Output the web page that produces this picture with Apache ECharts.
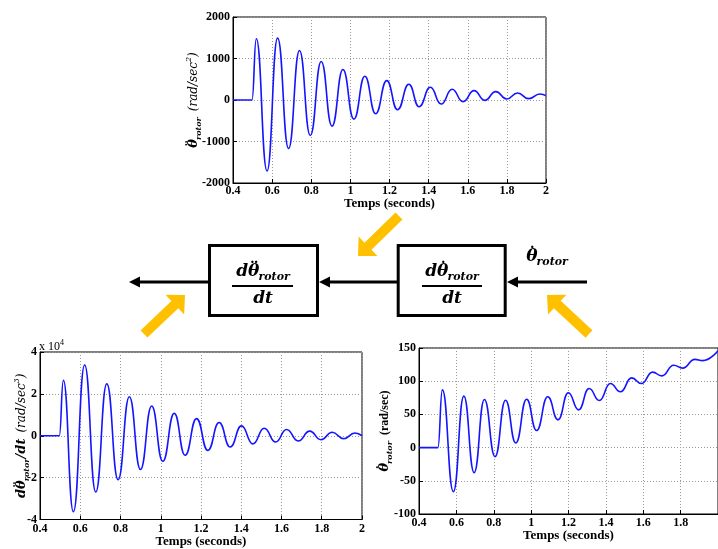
<!DOCTYPE html>
<html><head><meta charset="utf-8">
<script src="https://cdn.jsdelivr.net/npm/echarts@6/dist/echarts.min.js"></script>
<style>html,body{margin:0;padding:0;background:#fff}#c{width:718px;height:549px}</style>
</head><body><div id="c"></div>
<script>
// ---- tick values ----
const timeTicks = [0.4, 0.6, 0.8, 1.0, 1.2, 1.4, 1.6, 1.8, 2.0];
const accTicks = [-2000, -1000, 0, 1000, 2000];
const jerkTicks = [-40000, -20000, 0, 20000, 40000];
const velTicks = [-100, -50, 0, 50, 100, 150];

// ---- top chart: angular acceleration (rad/sec^2) ----
const accT = [0.4, 0.497, 0.519, 0.574, 0.628, 0.684, 0.740, 0.795, 0.851, 0.906, 0.962, 1.018, 1.074, 1.129, 1.186, 1.241, 1.299, 1.351, 1.409, 1.464, 1.52, 1.576, 1.632, 1.687, 1.743, 1.799, 1.855, 1.911, 1.969, 2.0];
const accV = [0, 0, 1476, -1710, 1492, -1169, 1194, -855, 927, -629, 734, -460, 573, -331, 468, -234, 379, -161, 306, -97, 258, -40, 226, -8, 202, 24, 169, 32, 145, 105];

// ---- bottom-left chart: jerk (rad/sec^3) ----
const jerkT = [0.4, 0.496, 0.516, 0.566, 0.622, 0.677, 0.732, 0.788, 0.844, 0.899, 0.955, 1.010, 1.067, 1.121, 1.178, 1.234, 1.290, 1.345, 1.401, 1.458, 1.514, 1.571, 1.625, 1.683, 1.740, 1.796, 1.852, 1.909, 1.965, 2.0];
const jerkV = [0, 0, 26500, -36300, 33800, -26900, 24800, -21000, 18600, -16100, 14200, -12200, 10700, -9300, 8200, -7000, 6300, -5400, 4700, -3900, 3600, -3000, 3000, -2500, 2200, -1900, 1700, -1400, 1300, 0];

// ---- bottom-right chart: angular velocity (rad/sec) ----
const velT = [0.4, 0.501, 0.525, 0.584, 0.640, 0.695, 0.750, 0.807, 0.863, 0.918, 0.976, 1.029, 1.089, 1.144, 1.199, 1.254, 1.310, 1.365, 1.424, 1.478, 1.538, 1.590, 1.650, 1.699, 1.763, 1.811, 1.876, 1.918, 2.0];
const velV = [0, 0, 87, -66.4, 77.5, -37.7, 72.4, -13.6, 71.4, 7.0, 72.9, 25.7, 76.5, 41.8, 82.5, 56.8, 89, 71, 96.6, 84, 105, 96.6, 113.7, 108, 124, 119.7, 132.8, 131, 146];

const pairs = (t, v) => t.map((x, i) => [x, v[i]]);
const step = a => Math.round((a[1] - a[0]) * 1e6) / 1e6;

const SERIF = "'Liberation Serif', 'DejaVu Serif', serif";
const MATH = "'DejaVu Serif', serif";
const lblStyle = { fontFamily: SERIF, fontWeight: 'bold', fontSize: 12, color: '#000' };

function xAxisFor(grid, gap, extraLabel) {
  return {
    type: 'value', gridIndex: grid,
    min: timeTicks[0], max: timeTicks[timeTicks.length - 1], interval: step(timeTicks),
    name: 'Temps (seconds)', nameLocation: 'middle', nameGap: gap, nameMoveOverlap: false,
    nameTextStyle: { fontFamily: SERIF, fontWeight: 'bold', fontSize: 13, color: '#000' },
    axisLine: { show: true, onZero: false, lineStyle: { color: '#000', width: 1 } },
    axisTick: { show: true, inside: true, length: 4, lineStyle: { color: '#000' } },
    axisLabel: Object.assign({}, lblStyle, { margin: 3, formatter: v => String(+v.toFixed(1)) }, extraLabel || {}),
    splitLine: { show: true, lineStyle: { color: '#9a9a9a', type: [1, 2], width: 1 } }
  };
}
function yAxisFor(grid, ticks, name, gap, fmt) {
  return {
    type: 'value', gridIndex: grid,
    min: ticks[0], max: ticks[ticks.length - 1], interval: step(ticks),
    name: name, nameLocation: 'middle', nameGap: gap, nameRotate: 90, nameMoveOverlap: false,
    nameTextStyle: { rich: mathRich },
    axisLine: { show: true, lineStyle: { color: '#000', width: 1 } },
    axisTick: { show: true, inside: true, length: 4, lineStyle: { color: '#000' } },
    axisLabel: Object.assign({}, lblStyle, { margin: 3, formatter: fmt || (v => String(v)) }),
    splitLine: { show: true, lineStyle: { color: '#9a9a9a', type: [1, 2], width: 1 } }
  };
}
// rich styles; the "d" token overlays dots (¨ / ˙) above the preceding θ
const mathRich = {
  t: { fontFamily: MATH, fontStyle: 'italic', fontWeight: 'bold', fontSize: 13, lineHeight: 18, verticalAlign: 'middle', color: '#000' },
  d: { fontFamily: MATH, fontWeight: 'bold', fontSize: 13, verticalAlign: 'middle', color: '#000', padding: [-4, 0, 0, -7.5] },
  s: { fontFamily: MATH, fontStyle: 'italic', fontWeight: 'bold', fontSize: 8, lineHeight: 18, verticalAlign: 'bottom', color: '#000' },
  i: { fontFamily: MATH, fontStyle: 'italic', fontSize: 12, lineHeight: 18, verticalAlign: 'middle', color: '#000' },
  n: { fontFamily: SERIF, fontWeight: 'bold', fontSize: 12, lineHeight: 18, verticalAlign: 'middle', color: '#000' },
  p: { fontFamily: MATH, fontStyle: 'italic', fontSize: 8, lineHeight: 18, verticalAlign: 'top', color: '#000' }
};
const boxRich = {
  a: { fontFamily: MATH, fontStyle: 'italic', fontWeight: 'bold', fontSize: 17, lineHeight: 22, verticalAlign: 'middle', fill: '#000' },
  d: { fontFamily: MATH, fontWeight: 'bold', fontSize: 17, verticalAlign: 'middle', fill: '#000', padding: [-5, 0, 0, -9.5] },
  b: { fontFamily: MATH, fontStyle: 'italic', fontWeight: 'bold', fontSize: 11, lineHeight: 22, verticalAlign: 'bottom', fill: '#000' }
};

function orangeArrow(tx, ty, hx, hy) {
  const dx = hx - tx, dy = hy - ty, L = Math.hypot(dx, dy);
  const ux = dx / L, uy = dy / L, nx = -uy, ny = ux;
  const sw = 5, hw = 13.5, hl = 14;
  const bx = hx - ux * hl, by = hy - uy * hl;
  return { type: 'polygon', z: 100, shape: { points: [
      [tx + nx * sw, ty + ny * sw], [bx + nx * sw, by + ny * sw], [bx + nx * hw, by + ny * hw],
      [hx, hy], [bx - nx * hw, by - ny * hw], [bx - nx * sw, by - ny * sw], [tx - nx * sw, ty - ny * sw]] },
    style: { fill: '#FFC000' } };
}
function blackHead(x, y) { return { type: 'polygon', z: 100, shape: { points: [[x, y], [x + 11, y - 5.5], [x + 11, y + 5.5]] }, style: { fill: '#000' } }; }
function hLine(x1, x2, y, w) { return { type: 'line', z: 100, shape: { x1: x1, y1: y, x2: x2, y2: y }, style: { stroke: '#000', lineWidth: w } }; }
function boxText(x, y, txt) { return { type: 'text', z: 101, x: x, y: y, style: { text: txt, rich: boxRich, align: 'center', verticalAlign: 'middle' } }; }

const chart = echarts.init(document.getElementById('c'), null, { renderer: 'canvas' });
chart.setOption({
  animation: false,
  backgroundColor: '#fff',
  grid: [
    { left: 233, top: 17, width: 313, height: 166, show: true, borderColor: '#000', borderWidth: 1, backgroundColor: '#fff' },
    { left: 40, top: 352, width: 322, height: 168, show: true, borderColor: '#000', borderWidth: 1, backgroundColor: '#fff' },
    { left: 419, top: 348, width: 301, height: 166, show: true, borderColor: '#000', borderWidth: 1, backgroundColor: '#fff' }
  ],
  xAxis: [
    xAxisFor(0, 14, { margin: 2 }),
    xAxisFor(1, 15.5),
    xAxisFor(2, 15, { showMaxLabel: false })
  ],
  yAxis: [
    yAxisFor(0, accTicks, '{t|θ}{d|¨}{s|rotor}{n|  }{i|(rad/sec}{p|2}{i|)}', 30),
    yAxisFor(1, jerkTicks, '{t|dθ}{d|¨}{s|rotor}{t|/dt}{n|  }{i|(rad/sec}{p|3}{i|)}', 9, v => String(v / 10000)),
    yAxisFor(2, velTicks, '{t|θ}{d|˙}{s|rotor}{n|  (rad/sec)}', 25)
  ],
  series: [
    { type: 'line', xAxisIndex: 0, yAxisIndex: 0, data: pairs(accT, accV), showSymbol: false, smooth: 0.5, smoothMonotone: 'x', lineStyle: { color: '#1414ff', width: 1.6 } },
    { type: 'line', xAxisIndex: 1, yAxisIndex: 1, data: pairs(jerkT, jerkV), showSymbol: false, smooth: 0.5, smoothMonotone: 'x', lineStyle: { color: '#1414ff', width: 1.6 } },
    { type: 'line', xAxisIndex: 2, yAxisIndex: 2, data: pairs(velT, velV), showSymbol: false, smooth: 0.5, smoothMonotone: 'x', lineStyle: { color: '#1414ff', width: 1.6 } }
  ],
  graphic: [
    { type: 'text', z: 101, x: 39, y: 339, style: { text: '{a|x 10}{b|4}', rich: {
      a: { fontFamily: SERIF, fontSize: 12, lineHeight: 14, verticalAlign: 'bottom', fill: '#000' },
      b: { fontFamily: SERIF, fontSize: 8, lineHeight: 14, verticalAlign: 'top', fill: '#000' } } } },
    { type: 'rect', z: 100, shape: { x: 209.5, y: 245.5, width: 108, height: 70 }, style: { fill: '#fff', stroke: '#000', lineWidth: 3 } },
    { type: 'rect', z: 100, shape: { x: 398.2, y: 245.5, width: 107, height: 70 }, style: { fill: '#fff', stroke: '#000', lineWidth: 3 } },
    hLine(138, 208, 282, 3), blackHead(129, 282),
    hLine(328, 397, 282, 3), blackHead(319, 282),
    hLine(516, 587, 282, 3), blackHead(507, 282),
    hLine(232, 293, 286, 2), hLine(422, 482, 286, 2),
    boxText(263, 272, '{a|dθ}{d|¨}{b|rotor}'), boxText(263, 299, '{a|dt}'),
    boxText(452, 272, '{a|dθ}{d|˙}{b|rotor}'), boxText(452, 299, '{a|dt}'),
    boxText(547, 257, '{a|θ}{d|˙}{b|rotor}'),
    orangeArrow(399, 216, 358, 256),
    orangeArrow(144, 334, 185, 295),
    orangeArrow(589, 334, 547, 295)
  ]
});
</script></body></html>
